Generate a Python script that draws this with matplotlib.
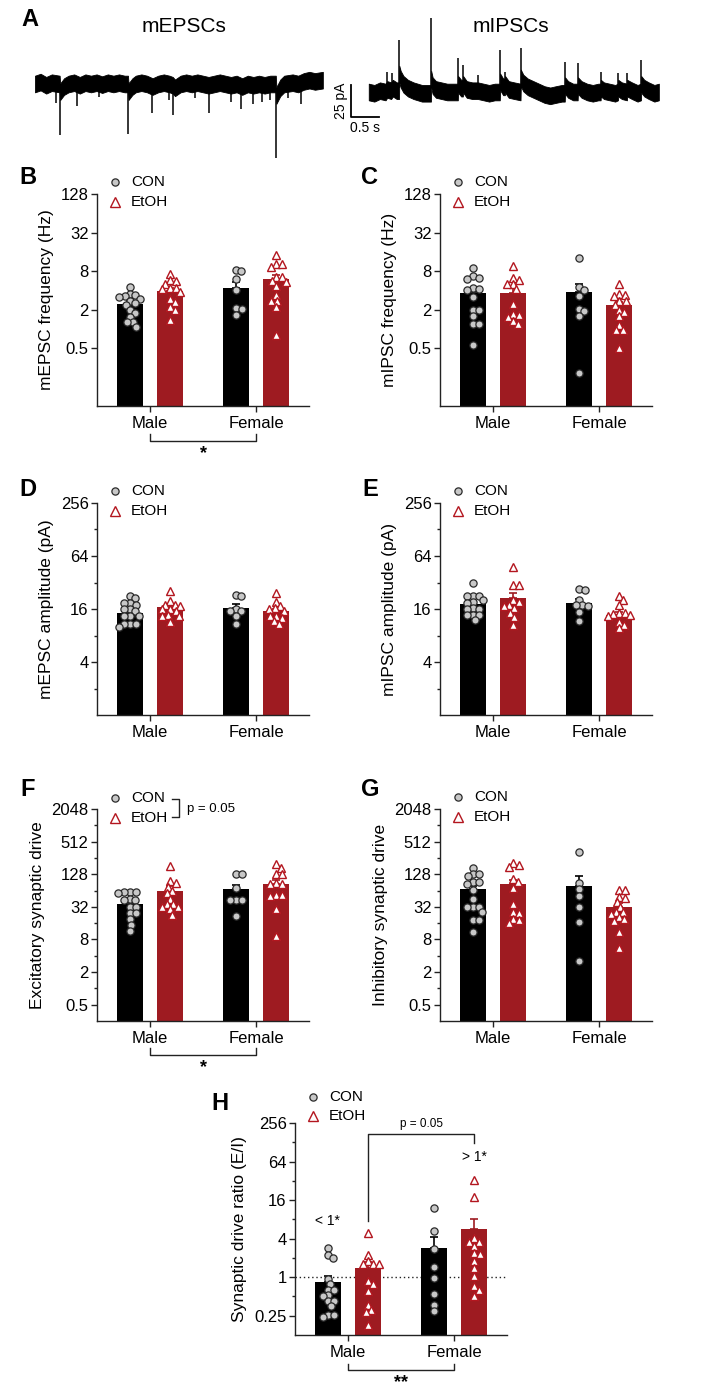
import numpy as np
import matplotlib
matplotlib.use("Agg")
import matplotlib.pyplot as plt
from matplotlib.ticker import FixedLocator, NullFormatter

plt.rcParams['font.family'] = ['Liberation Sans', 'DejaVu Sans']

# ---- data -------------------------------------------------------------
groups = ['Male', 'Female']

# example traces: slow baseline (time s, pA) plus fast events (time s, peak pA)
epsc_base = [(0, 0), (0.1, 1.5), (0.2, -1), (0.3, 1), (0.44, 0), (0.45, -6), (0.52, -2), (0.6, 0),
             (0.7, 1), (0.8, -1), (0.9, 1), (1.0, 0), (1.1, 1), (1.2, -0.5), (1.3, 1), (1.4, 0),
             (1.5, 1), (1.6, 0), (1.66, 0), (1.67, -6), (1.74, -2), (1.8, 0), (1.9, 1), (2.0, 0),
             (2.1, -2), (2.2, 0), (2.3, 1), (2.4, 0), (2.46, -1), (2.5, -3), (2.6, 0), (2.7, 1),
             (2.8, 0), (2.9, 1), (3.0, 0), (3.1, -1), (3.2, 0), (3.3, 1), (3.4, 0), (3.5, -1),
             (3.6, 0), (3.7, -2), (3.8, 0), (3.9, -1), (4.0, 0), (4.1, -1), (4.2, 0), (4.30, 0),
             (4.31, -9), (4.38, -3), (4.45, 0), (4.6, 1), (4.7, 0), (4.8, 2), (4.9, 3), (5.0, 2),
             (5.14, 3)]
epsc_ev_t = [0.375, 0.446, 0.75, 1.14, 1.66, 2.09, 2.39, 2.46, 2.86, 3.11, 3.50, 3.68, 3.89,
             4.05, 4.20, 4.30, 4.52, 4.75]
epsc_ev_peak = [-15, -40, -17, -10, -39, -23, -12.5, -24, -11, -23, -14, -19.5, -16, -14, -12.5,
                -58, -11, -16]

ipsc_base = [(0, 0), (0.1, -1), (0.2, 1), (0.3, 0), (0.33, 2), (0.4, 1), (0.43, 3), (0.5, 1),
             (0.54, 1), (0.545, 14), (0.57, 10), (0.62, 6), (0.70, 3), (0.80, 1), (0.95, -1),
             (1.05, -1), (1.11, -1), (1.115, 10), (1.14, 5), (1.2, 2), (1.3, 1), (1.4, 0), (1.5, 0),
             (1.59, 0), (1.595, 6), (1.65, 3), (1.68, 3), (1.685, 6), (1.75, 2), (1.85, 1),
             (1.95, 1), (2.05, 0), (2.15, -1), (2.25, 0), (2.34, 0), (2.345, 8), (2.4, 4),
             (2.43, 4), (2.435, 6), (2.5, 2), (2.6, 1), (2.71, 0), (2.715, 11), (2.76, 7),
             (2.84, 4), (2.94, 2), (3.04, 0), (3.14, -2), (3.24, -3), (3.34, -2), (3.45, -1),
             (3.50, -1), (3.505, 5), (3.56, 2), (3.65, 0), (3.73, 0), (3.735, 5), (3.8, 2),
             (3.9, 0), (4.0, -1), (4.1, 0), (4.14, 0), (4.145, 3), (4.2, 1), (4.3, 0), (4.4, -1),
             (4.45, 0), (4.455, 3), (4.52, 1), (4.61, 0), (4.615, 3), (4.7, 1), (4.8, -1),
             (4.86, 0), (4.865, 6), (4.92, 3), (5.0, 1), (5.1, -1), (5.18, 0)]
ipsc_ev_t = [0.32, 0.41, 0.54, 1.11, 1.59, 1.68, 1.95, 2.34, 2.43, 2.71, 3.50, 3.73, 4.14, 4.45,
             4.61, 4.86]
ipsc_ev_peak = [15.6, 15, 40.6, 57.8, 26.5, 21, 13, 32.8, 15.6, 34.4, 23.4, 22.7, 15.6, 15, 15, 25]

# B: mEPSC frequency (Hz)
b_con = [[4.52, 3.56, 3.23, 3.16, 3.35, 2.97, 2.69, 2.54, 2.34, 1.95, 1.77, 1.54, 1.28, 1.26, 1.07],
         [8.45, 8.03, 5.97, 4.01, 2.12, 2.07, 1.67]]
b_etoh = [[7.32, 5.76, 5.6, 5.1, 4.4, 4.4, 4.26, 3.77, 2.97, 2.64, 2.2, 1.95, 1.36],
          [14.2, 10.25, 10.25, 9.28, 6.48, 6.36, 5.7, 5.4, 4.64, 3.35, 2.73, 2.73, 2.2, 0.8]]
b_mean = [[2.48, 4.4], [3.95, 6.1]]
b_sem = [[0.25, 1.0], [0.45, 0.9]]

# C: mIPSC frequency (Hz)
c_con = [[9.08, 6.6, 6.3, 6.1, 4.4, 4.26, 4.1, 3.16, 2.0, 2.0, 1.57, 1.21, 1.21, 0.57],
         [13.0, 4.52, 4.11, 3.23, 2.07, 1.91, 1.6, 0.205]]
c_etoh = [[9.65, 6.3, 5.9, 5.1, 5.0, 4.26, 2.42, 1.69, 1.63, 1.54, 1.33, 1.21],
          [4.98, 3.47, 3.35, 3.23, 2.73, 2.73, 2.34, 2.0, 1.84, 1.6, 1.14, 0.97, 0.95, 0.5]]
c_mean = [[3.7, 3.8], [3.7, 2.35]]
c_sem = [[0.6, 1.3], [0.8, 0.3]]

# D: mEPSC amplitude (pA)
d_con = [[22.2, 21.3, 18.5, 18.5, 17.9, 15.8, 15.8, 15.1, 13.3, 13.3, 13.3, 10.7, 10.7, 10.7, 9.9],
         [23.3, 22.4, 15.8, 15.1, 15.1, 13.3, 10.7]]
d_etoh = [[25.3, 19.5, 17.9, 17.9, 17.1, 15.8, 15.8, 15.1, 13.7, 13.3, 13.3, 11.4],
          [24.6, 19.0, 17.1, 16.4, 15.8, 15.1, 13.3, 13.3, 12.6, 11.6, 10.8]]
d_mean = [[14.4, 16.4], [16.8, 15.0]]
d_sem = [[1.0, 1.6], [1.1, 1.2]]

# E: mIPSC amplitude (pA)
e_con = [[32, 22.6, 22.6, 22.6, 19.1, 20.3, 18.9, 16.4, 16, 16, 13.7, 13.7, 13.7, 11.9],
         [27.3, 26.6, 20.3, 17.9, 17.9, 17.1, 14.9, 11.8]]
e_etoh = [[48.5, 30.2, 30.2, 20.1, 19.1, 17.9, 17.4, 16.4, 14.6, 12.9, 10.6],
          [22.6, 20.3, 17.9, 14.6, 14.6, 14.2, 13.7, 13.3, 11.5, 10.6, 9.8]]
e_mean = [[18.2, 18.6], [21.6, 13.5]]
e_sem = [[1.3, 2.0], [2.7, 1.3]]

# F: excitatory synaptic drive
f_con = [[60.3, 58.9, 58.9, 58.0, 45.1, 42.4, 42.4, 32, 32, 24.6, 24.6, 18.9, 14.9, 11.5],
         [131, 131, 71.5, 42.6, 42.6, 42.6, 21.8]]
f_etoh = [[181, 95.5, 88.2, 75.4, 62.3, 56.6, 45.1, 36.4, 36.4, 32, 32, 28.6, 22.6],
          [194, 170, 131, 131, 88, 85.6, 85.6, 52.2, 52.2, 50.4, 29.8, 9.1]]
f_mean = [[36, 68], [64, 86]]
f_sem = [[4, 14], [12, 15]]

# G: inhibitory synaptic drive
g_con = [[169, 131, 131, 118, 92.6, 92.6, 85.6, 64.3, 45.1, 32, 32, 32, 26.1, 18.6, 18.6, 10.8],
         [336, 88.2, 67.3, 50.4, 32, 16.8, 3.2]]
g_etoh = [[205, 192, 174, 104, 92.6, 71.4, 36.4, 26.1, 24.6, 18.7, 18.6, 16.1],
          [64.3, 64.3, 49.3, 47.3, 39.5, 32, 26.1, 26.1, 23.7, 20.6, 18.7, 17.8, 10.9, 5.5]]
g_mean = [[67, 78], [83, 32]]
g_sem = [[12, 42], [18, 5]]

# H: synaptic drive ratio (E/I)
h_con = [[2.9, 2.22, 1.97, 0.95, 0.785, 0.64, 0.64, 0.52, 0.5, 0.42, 0.42, 0.35, 0.26, 0.26, 0.24],
         [12.1, 5.18, 2.73, 1.44, 0.98, 0.55, 0.37, 0.3]]
h_etoh = [[4.82, 2.22, 1.79, 1.58, 1.58, 1.58, 0.865, 0.785, 0.6, 0.37, 0.31, 0.29, 0.18],
          [32.6, 17.8, 4.06, 3.6, 3.6, 3.08, 2.42, 2.28, 1.79, 1.4, 1.04, 0.72, 0.64, 0.5]]
h_mean = [[0.84, 2.9], [1.4, 5.6]]
h_sem = [[0.2, 1.4], [0.35, 2.5]]

# ---- style ------------------------------------------------------------
CON_BAR = 'black'
ETOH_BAR = '#9e1b21'
CON_DOT = '#c8c8c8'
ETOH_EDGE = '#b3161f'
OFF = 0.19
BW = 0.245
NOISE = 6.5   # half thickness of the noise band, pA

W, H = 722, 1400
fig = plt.figure(figsize=(W / 100, H / 100), dpi=100)


def box(l, t, r, b):
    return fig.add_axes([l / W, 1 - b / H, (r - l) / W, (b - t) / H])


def ftext(x, y, s, **kw):
    fig.text(x / W, 1 - y / H, s, **kw)


def swarm_x(ax, xc, vals, d=5.8):
    # simple beeswarm in pixel space, returns data x positions
    vals = np.asarray(vals, float)
    disp = ax.transData.transform(np.column_stack([np.full(len(vals), xc), vals]))
    x0 = disp[0, 0]
    ys = disp[:, 1]
    xs = np.zeros(len(vals))
    placed = []
    for i in np.argsort(-ys):
        y = ys[i]
        cands = [0.0]
        for px, py in placed:
            dy = y - py
            if abs(dy) < d:
                dx = np.sqrt(d * d - dy * dy)
                cands += [px - x0 + dx, px - x0 - dx]
        cands.sort(key=abs)
        for c in cands:
            if all((c + x0 - px) ** 2 + (y - py) ** 2 >= d * d - 1e-6 for px, py in placed):
                break
        xs[i] = x0 + c
        placed.append((x0 + c, y))
    return ax.transData.inverted().transform(np.column_stack([xs, ys]))[:, 0]


def fmt(v):
    return str(int(v)) if v >= 1 else str(v)


def panel(l, t, letter, lpos, ylim, major, minor, ylabel, con, etoh, means, sems, leg_dy=(-12, 8)):
    ax = box(l, t, l + 212, t + 212)
    ax.set_yscale('log', base=2)
    ax.set_ylim(*ylim)
    ax.set_xlim(-0.5, 1.5)
    for s in ['top', 'right']:
        ax.spines[s].set_visible(False)
    for s in ['left', 'bottom']:
        ax.spines[s].set_linewidth(1.0)
        ax.spines[s].set_color('#222222')
    ax.yaxis.set_major_locator(FixedLocator(major))
    ax.set_yticklabels([fmt(v) for v in major])
    ax.yaxis.set_minor_locator(FixedLocator(minor))
    ax.yaxis.set_minor_formatter(NullFormatter())
    ax.tick_params(axis='y', which='major', length=4, width=1, labelsize=12, pad=2, color='#222222')
    ax.tick_params(axis='y', which='minor', length=2.5, width=1, color='#222222')
    ax.set_xticks([0, 1])
    ax.set_xticklabels(groups)
    ax.tick_params(axis='x', length=4, width=1, labelsize=12, pad=3, color='#222222')
    ax.set_ylabel(ylabel, fontsize=12.5, labelpad=5)

    x = np.arange(2)
    lo = ylim[0]
    for k, (xx, col) in enumerate([(x - OFF, CON_BAR), (x + OFF, ETOH_BAR)]):
        m = np.array(means[k])
        ax.bar(xx, m - lo, bottom=lo, width=BW, color=col, zorder=1)
        ax.errorbar(xx, m, yerr=[np.zeros(2), sems[k]], fmt='none', ecolor=col,
                    elinewidth=1.2, capsize=3, capthick=1.2, zorder=2)
    for g in range(2):
        xs = swarm_x(ax, g - OFF, con[g])
        ax.plot(xs, con[g], 'o', ms=5.2, mfc=CON_DOT, mec='#2a2a2a', mew=0.9, ls='none', zorder=3)
        xs = swarm_x(ax, g + OFF, etoh[g])
        ax.plot(xs, etoh[g], '^', ms=6, mfc='white', mec=ETOH_EDGE, mew=1.0, ls='none', zorder=3)

    # legend
    lx = (l + 18) / W
    fig.add_artist(plt.Line2D([lx], [1 - (t + leg_dy[0]) / H], marker='o', ms=5.2, mfc=CON_DOT,
                              mec='#2a2a2a', mew=0.9, ls='none', transform=fig.transFigure))
    fig.add_artist(plt.Line2D([lx], [1 - (t + leg_dy[1]) / H], marker='^', ms=6.5, mfc='white',
                              mec=ETOH_EDGE, mew=1.0, ls='none', transform=fig.transFigure))
    ftext(l + 34, t + leg_dy[0], 'CON', fontsize=11, va='center', ha='left')
    ftext(l + 34, t + leg_dy[1], 'EtOH', fontsize=11, va='center', ha='left')
    ftext(lpos[0], lpos[1], letter, fontsize=17, fontweight='bold', ha='center', va='center')
    return ax


def bottom_bracket(ax, y_arm, y_line, y_star, star):
    tr = ax.get_xaxis_transform()
    ax.plot([0, 0, 1, 1], [y_arm, y_line, y_line, y_arm], color='#222222', lw=1,
            transform=tr, clip_on=False)
    ax.text(0.5, y_star, star, transform=tr, ha='center', va='center', fontsize=13,
            fontweight='bold')


def draw_trace(ax, base, ev_t, ev_peak, t0, y0, sign):
    b = np.array(base)
    ax.fill_between(b[:, 0] + t0, b[:, 1] + y0 - NOISE, b[:, 1] + y0 + NOISE,
                    color='black', lw=0.6, edgecolor='black')
    ax.vlines(np.array(ev_t) + t0, y0 + sign * NOISE * 0.5, np.array(ev_peak) + y0,
              color='black', lw=1.1)


# ---- panel A: traces ----------------------------------------------------
ax_a = box(30, 5, 670, 170)
ax_a.set_xlim(-5 / 56, 635 / 56)
ax_a.set_ylim((84 - 170) / 1.28, (84 - 5) / 1.28)
ax_a.axis('off')
draw_trace(ax_a, epsc_base, epsc_ev_t, epsc_ev_peak, 0.0, 0.0, -1)
draw_trace(ax_a, ipsc_base, ipsc_ev_t, ipsc_ev_peak, 5.96, -6.25, 1)
ax_a.plot([5.64, 5.64, 6.14], [-0.8, -25.8, -25.8], color='black', lw=1.3)
ax_a.text(5.47, -13.3, '25 pA', rotation=90, ha='center', va='center', fontsize=10)
ax_a.text(5.89, -34.5, '0.5 s', ha='center', va='center', fontsize=10)
ftext(184, 27, 'mEPSCs', fontsize=15, ha='center', va='center')
ftext(511, 27, 'mIPSCs', fontsize=15, ha='center', va='center')
ftext(30, 20, 'A', fontsize=17, fontweight='bold', ha='center', va='center')

# ---- bar panels -------------------------------------------------------
axB = panel(97, 194, 'B', (28, 178), (1 / 16, 128), [0.5, 2, 8, 32, 128], [],
            'mEPSC frequency (Hz)', b_con, b_etoh, b_mean, b_sem)
bottom_bracket(axB, -0.132, -0.165, -0.225, '*')
panel(440, 194, 'C', (370, 178), (1 / 16, 128), [0.5, 2, 8, 32, 128], [],
      'mIPSC frequency (Hz)', c_con, c_etoh, c_mean, c_sem)
panel(97, 503, 'D', (28, 489), (1, 256), [4, 16, 64, 256], [2, 8, 32, 128],
      'mEPSC amplitude (pA)', d_con, d_etoh, d_mean, d_sem)
panel(440, 503, 'E', (370, 489), (1, 256), [4, 16, 64, 256], [2, 8, 32, 128],
      'mIPSC amplitude (pA)', e_con, e_etoh, e_mean, e_sem)
axF = panel(97, 809, 'F', (28, 790), (0.25, 2048), [0.5, 2, 8, 32, 128, 512, 2048],
            [1, 4, 16, 64, 256, 1024], 'Excitatory synaptic drive', f_con, f_etoh, f_mean, f_sem,
            leg_dy=(-11, 9))
bottom_bracket(axF, -0.127, -0.16, -0.218, '*')
# legend bracket in F
fig.add_artist(plt.Line2D([172 / W, 179 / W, 179 / W, 172 / W],
                          [1 - 799 / H, 1 - 799 / H, 1 - 817 / H, 1 - 817 / H],
                          color='#222222', lw=1, transform=fig.transFigure))
ftext(187, 809, 'p = 0.05', fontsize=9.5, ha='left', va='center')
panel(440, 809, 'G', (370, 790), (0.25, 2048), [0.5, 2, 8, 32, 128, 512, 2048],
      [1, 4, 16, 64, 256, 1024], 'Inhibitory synaptic drive', g_con, g_etoh, g_mean, g_sem,
      leg_dy=(-12, 8))
axH = panel(295, 1123, 'H', (220, 1103), (0.125, 256), [0.25, 1, 4, 16, 64, 256],
            [0.5, 2, 8, 32, 128], 'Synaptic drive ratio (E/I)', h_con, h_etoh, h_mean, h_sem,
            leg_dy=(-26, -7))
axH.axhline(1, ls=(0, (1, 2)), color='#222222', lw=1, zorder=0)
bottom_bracket(axH, -0.138, -0.167, -0.225, '**')
axH.plot([OFF, OFF, 1 + OFF, 1 + OFF], [7.6, 171, 171, 126], color='#222222', lw=1,
         clip_on=False)
axH.text(0.69, 200, 'p = 0.05', fontsize=8.5, ha='center', va='bottom')
axH.text(-OFF, 7.6, '< 1*', fontsize=10, ha='center', va='center')
axH.text(1 + OFF, 76, '> 1*', fontsize=10, ha='center', va='center')

fig.savefig('out.png', dpi=100)
